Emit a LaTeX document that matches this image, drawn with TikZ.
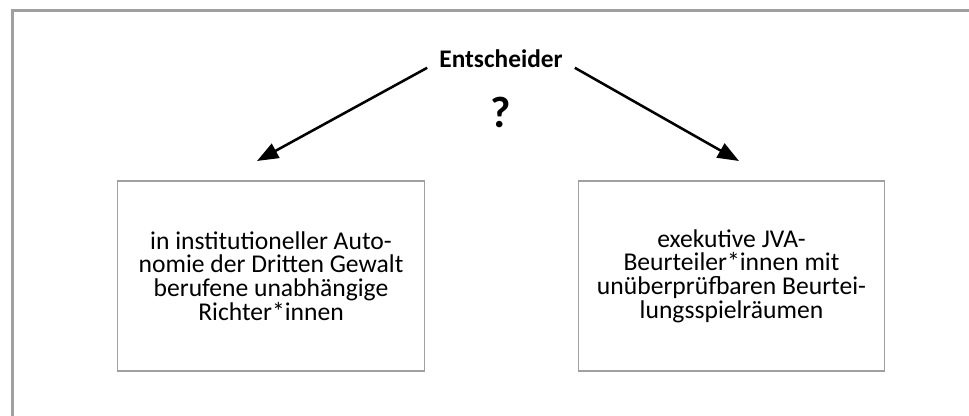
\documentclass[tikz,border=0pt]{standalone}
\usepackage{fontspec}
\setmainfont{Carlito}
\usetikzlibrary{arrows.meta}
\definecolor{framegray}{HTML}{A0A0A0}
\tikzstyle{choice} = [draw=framegray, line width=0.8pt, minimum width=230pt, minimum height=142.5pt, align=center, inner sep=0pt, font=\fontsize{19.2}{17.8}\selectfont]
\tikzstyle{link} = [line width=1.9pt, -{Triangle[length=16pt,width=12pt]}]

\begin{document}
\begin{tikzpicture}[x=0.75pt,y=-0.75pt]
    \useasboundingbox (0,0) rectangle (969,416);
    \draw[framegray, line width=2.2pt] (12.5,430) -- (12.5,10.5) -- (985,10.5);
    \draw (501,59) node[inner xsep=9pt, font=\bfseries\fontsize{19}{19}\selectfont] (decider) {Entscheider};
    \draw (501,112) node[font=\bfseries\fontsize{33}{33}\selectfont] (query) {?};
    \draw (271,276) node[choice] (judges) {in institutioneller Auto-\\nomie der Dritten Gewalt\\berufene unabhängige\\Richter*innen};
    \draw (731.5,276) node[choice] (jva) {exekutive JVA-\\Beurteiler*innen mit\\unüberprüfbaren Beurtei-\\lungsspielräumen};
    \coordinate (judgestip) at (257,161);
    \coordinate (jvatip) at (739,161);
    \draw[link] (decider.base west) -- (judgestip);
    \draw[link] (decider.base east) -- (jvatip);
\end{tikzpicture}
\end{document}
